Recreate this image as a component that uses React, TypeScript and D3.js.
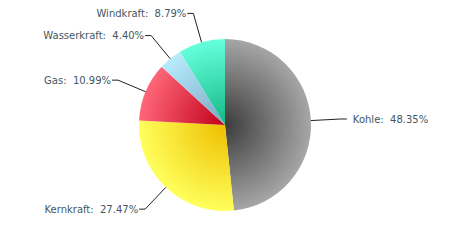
import React from "react";
import * as d3 from "d3";

const categories = ["Kohle", "Kernkraft", "Gas", "Wasserkraft", "Windkraft"];
const values = [44, 25, 10, 4, 8];
const innerColors = ["#3c3c3c", "#eebf00", "#c0001a", "#7aa6c2", "#12b886"];
const outerColors = ["#a6a6a6", "#ffff5c", "#ff6678", "#b8ecfc", "#66ffdc"];

const W = 450, H = 250;
const cx = 225, cy = 125, R = 86;

export default function App() {
  const total = d3.sum(values);
  const pie = d3.pie<number>().sort(null).value((d) => d)(values);
  const arc = d3.arc<d3.PieArcDatum<number>>().innerRadius(0).outerRadius(R);
  const edgeArc = d3.arc<d3.PieArcDatum<number>>().innerRadius(R).outerRadius(R);
  const labelArc = d3.arc<d3.PieArcDatum<number>>().innerRadius(R + 30).outerRadius(R + 30);
  const fmt = d3.format(".2f");
  return (
    <svg width={W} height={H} style={{ position: "absolute", left: 0, top: 0 }}>
      <defs>
        {categories.map((c, i) => (
          <radialGradient key={c} id={`g${i}`} gradientUnits="userSpaceOnUse" cx={0} cy={0} r={R}>
            <stop offset="0" stopColor={innerColors[i]} />
            <stop offset="1" stopColor={outerColors[i]} />
          </radialGradient>
        ))}
      </defs>
      <g transform={`translate(${cx},${cy})`}>
        {pie.map((p, i) => (
          <path key={i} d={arc(p) || ""} fill={`url(#g${i})`} stroke="none" />
        ))}
        {pie.map((p, i) => {
          const mid = (p.startAngle + p.endAngle) / 2;
          const right = Math.sin(mid) > 0;
          const [ex, ey] = edgeArc.centroid(p);
          const [bx, by] = labelArc.centroid(p);
          const hx = bx + (right ? 6 : -6);
          const tx = right ? hx + 6 : hx - 1;
          const label = `${categories[i]}:\u00a0 ${fmt((values[i] / total) * 100)}%`;
          return (
            <g key={"l" + i}>
              <path d={`M${ex},${ey}L${bx},${by}L${hx},${by}`} fill="none" stroke="#222" strokeWidth={1} />
              <text
                x={tx}
                y={by}
                dy="0.35em"
                textAnchor={right ? "start" : "end"}
                fontFamily="'DejaVu Sans', Verdana, sans-serif"
                fontSize={10}
                fill="#44575f"
              >
                {label}
              </text>
            </g>
          );
        })}
      </g>
    </svg>
  );
}
